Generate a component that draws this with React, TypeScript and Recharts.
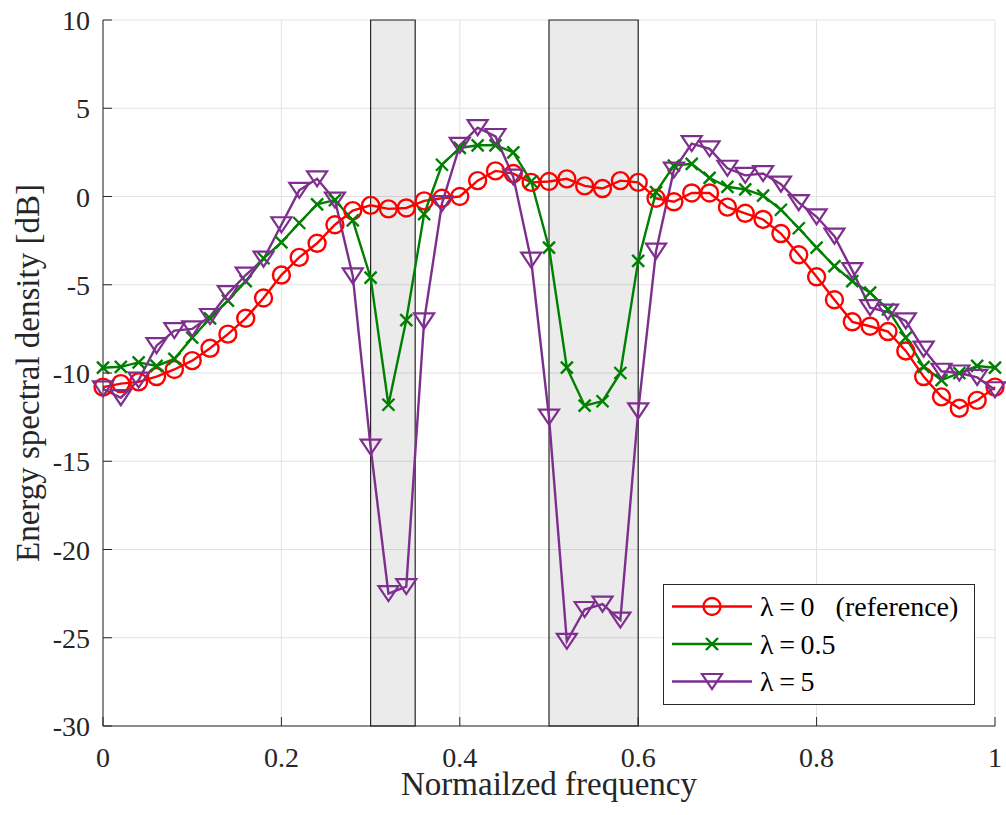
import React from 'react';
import { LineChart, Line, XAxis, YAxis, CartesianGrid, ReferenceArea, Legend } from 'recharts';

const FREQ = [
  0, 0.02, 0.04, 0.06, 0.08, 0.1, 0.12, 0.14, 0.16, 0.18, 0.2, 0.22, 0.24, 0.26, 0.28, 0.3, 0.32,
  0.34, 0.36, 0.38, 0.4, 0.42, 0.44, 0.46, 0.48, 0.5, 0.52, 0.54, 0.56, 0.58, 0.6, 0.62, 0.64, 0.66,
  0.68, 0.7, 0.72, 0.74, 0.76, 0.78, 0.8, 0.82, 0.84, 0.86, 0.88, 0.9, 0.92, 0.94, 0.96, 0.98, 1,
];

// lambda = 0 (reference)
const ESD_REF = [
  -10.8, -10.6, -10.5, -10.2, -9.8, -9.3, -8.6, -7.8, -6.9, -5.75, -4.45, -3.45, -2.65, -1.6, -0.8,
  -0.5, -0.7, -0.65, -0.25, -0.1, 0.0, 0.9, 1.45, 1.3, 0.8, 0.85, 1.0, 0.6, 0.45, 0.9, 0.8, -0.1,
  -0.3, 0.2, 0.2, -0.6, -0.95, -1.3, -2.1, -3.3, -4.55, -5.85, -7.1, -7.35, -7.65, -8.75, -10.2,
  -11.35, -12.0, -11.55, -10.8,
];

// lambda = 0.5
const ESD_L05 = [
  -9.7, -9.65, -9.4, -9.6, -9.2, -8.0, -6.9, -5.9, -4.8, -3.5, -2.6, -1.5, -0.45, -0.2, -1.35, -4.6,
  -11.8, -7.0, -1.0, 1.8, 2.75, 2.9, 2.9, 2.5, 0.85, -2.9, -9.7, -11.85, -11.6, -10.0, -3.65, 0.25,
  1.75, 1.85, 1.05, 0.55, 0.4, 0.05, -0.75, -1.8, -2.9, -3.95, -4.8, -5.45, -6.4, -8.0, -9.65, -10.4,
  -10.0, -9.6, -9.7,
];

// lambda = 5
const ESD_L5 = [
  -10.9, -11.4, -10.4, -8.45, -7.6, -7.5, -6.8, -5.5, -4.45, -3.55, -1.6, 0.35, 1.0, -0.2, -4.5,
  -14.2, -22.5, -22.1, -7.05, -0.4, 2.9, 3.9, 3.4, 1.1, -3.6, -12.5, -25.2, -23.4, -23.1, -24.0,
  -12.15, -3.1, 1.5, 3.0, 2.7, 1.6, 1.2, 1.3, 0.7, -0.35, -1.15, -2.25, -4.2, -6.3, -6.55, -7.05,
  -8.65, -9.9, -10.0, -10.25, -10.95,
];

// shaded frequency bands
const BANDS = [
  [0.3, 0.35],
  [0.5, 0.6],
];

const X_TICKS = [0, 0.2, 0.4, 0.6, 0.8, 1];
const Y_TICKS = [-30, -25, -20, -15, -10, -5, 0, 5, 10];

const SERIES = [
  { key: 'ref', name: 'λ\u2009=\u20090\u00a0\u00a0\u00a0(reference)', color: '#ff0000', marker: 'circle' },
  { key: 'l05', name: 'λ\u2009=\u20090.5', color: '#008000', marker: 'cross' },
  { key: 'l5', name: 'λ\u2009=\u20095', color: '#7e2f8e', marker: 'tri' },
];

const data = FREQ.map((f, i) => ({ f, ref: ESD_REF[i], l05: ESD_L05[i], l5: ESD_L5[i] }));

const FONT = '"Liberation Serif", "Times New Roman", serif';
const AXIS = '#262626';
const TICK_LEN = 9;

const Marker = ({ cx, cy, kind, color }: any) => {
  if (cx == null || cy == null) return null;
  if (kind === 'circle') {
    return <circle cx={cx} cy={cy} r={8.5} fill="none" stroke={color} strokeWidth={2.4} />;
  }
  if (kind === 'cross') {
    const s = 6;
    return (
      <g stroke={color} strokeWidth={2.4}>
        <line x1={cx - s} y1={cy - s} x2={cx + s} y2={cy + s} />
        <line x1={cx - s} y1={cy + s} x2={cx + s} y2={cy - s} />
      </g>
    );
  }
  return (
    <polygon
      points={`${cx - 10},${cy - 7.5} ${cx + 10},${cy - 7.5} ${cx},${cy + 7.5}`}
      fill="none"
      stroke={color}
      strokeWidth={2.2}
      strokeLinejoin="miter"
    />
  );
};

const fmtX = (v: number) => String(Math.round(v * 10) / 10);

const BottomTick = ({ x, y, payload }: any) => (
  <g>
    <line x1={x} y1={y} x2={x} y2={y - TICK_LEN} stroke={AXIS} />
    <text x={x} y={y + 41} textAnchor="middle" fontFamily={FONT} fontSize={28} fill={AXIS}>
      {fmtX(payload.value)}
    </text>
  </g>
);

const TopTick = ({ x, y }: any) => <line x1={x} y1={y} x2={x} y2={y + TICK_LEN} stroke={AXIS} />;

const LeftTick = ({ x, y, payload }: any) => (
  <g>
    <line x1={x} y1={y} x2={x + TICK_LEN} y2={y} stroke={AXIS} />
    <text x={x - 13} y={y + 10} textAnchor="end" fontFamily={FONT} fontSize={28} fill={AXIS}>
      {String(payload.value)}
    </text>
  </g>
);

const RightTick = ({ x, y }: any) => <line x1={x} y1={y} x2={x - TICK_LEN} y2={y} stroke={AXIS} />;

const LegendBox = () => (
  <svg width={312} height={121} style={{ display: 'block' }}>
    <rect x={0.5} y={0.5} width={311} height={120} fill="#fff" stroke={AXIS} strokeWidth={1} />
    {SERIES.map((s, i) => {
      const cy = 22.5 + i * 37.5;
      return (
        <g key={s.key}>
          <line x1={9} y1={cy} x2={89} y2={cy} stroke={s.color} strokeWidth={2.4} />
          <Marker cx={49} cy={cy} kind={s.marker} color={s.color} />
          <text x={97} y={cy + 9.5} fontFamily={FONT} fontSize={28} fill="#000">
            {s.name}
          </text>
        </g>
      );
    })}
  </svg>
);

const App: React.FC = () => {
  return (
    <div style={{ position: 'absolute', left: 0, top: 0, width: 1006, height: 815, background: '#fff' }}>
      <LineChart width={1006} height={815} data={data} margin={{ top: 20, right: 11, bottom: 0, left: 0 }}>
        <CartesianGrid stroke="#e2e2e2" strokeWidth={1} />
        {BANDS.map(([a, b]) => (
          <ReferenceArea
            key={a}
            x1={a}
            x2={b}
            y1={-30}
            y2={10}
            fill="#000"
            fillOpacity={0.08}
            stroke={AXIS}
            strokeWidth={1.2}
            strokeOpacity={1}
          />
        ))}
        <XAxis
          dataKey="f"
          type="number"
          domain={[0, 1]}
          ticks={X_TICKS}
          height={89}
          stroke={AXIS}
          tickSize={0}
          tickMargin={0}
          tickLine={false}
          tick={<BottomTick />}
          label={{
            value: 'Normailzed frequency',
            position: 'insideBottom',
            offset: 20,
            fontFamily: FONT,
            fontSize: 33,
            fill: AXIS,
          }}
        />
        <XAxis
          xAxisId="top"
          orientation="top"
          dataKey="f"
          type="number"
          domain={[0, 1]}
          ticks={X_TICKS}
          height={0}
          stroke={AXIS}
          tickSize={0}
          tickMargin={0}
          tickLine={false}
          tick={<TopTick />}
        />
        <YAxis
          type="number"
          domain={[-30, 10]}
          ticks={Y_TICKS}
          width={103}
          stroke={AXIS}
          tickSize={0}
          tickMargin={0}
          tickLine={false}
          tick={<LeftTick />}
          label={{
            value: 'Energy spectral density [dB]',
            angle: -90,
            position: 'insideLeft',
            offset: 27,
            style: { textAnchor: 'middle' },
            fontFamily: FONT,
            fontSize: 33,
            fill: AXIS,
          }}
        />
        <YAxis
          yAxisId="right"
          orientation="right"
          type="number"
          domain={[-30, 10]}
          ticks={Y_TICKS}
          width={0}
          stroke={AXIS}
          tickSize={0}
          tickMargin={0}
          tickLine={false}
          tick={<RightTick />}
        />
        {SERIES.map((s) => (
          <Line
            key={s.key}
            type="linear"
            dataKey={s.key}
            name={s.name}
            stroke={s.color}
            strokeWidth={2.4}
            dot={(p: any) => <Marker key={`${s.key}-${p.index}`} cx={p.cx} cy={p.cy} kind={s.marker} color={s.color} />}
            activeDot={false}
            isAnimationActive={false}
          />
        ))}
        <Legend
          layout="vertical"
          align="center"
          verticalAlign="middle"
          wrapperStyle={{ left: 663, top: 584, width: 312, height: 121 }}
          content={() => <LegendBox />}
        />
      </LineChart>
    </div>
  );
};

export default App;
